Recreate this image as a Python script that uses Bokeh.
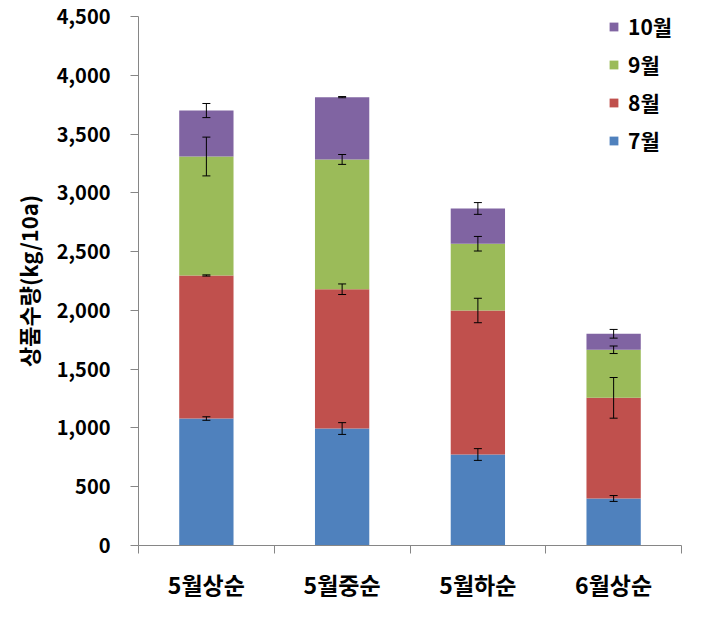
from bokeh.plotting import figure
from bokeh.models import (ColumnDataSource, Range1d, FixedTicker, Whisker, TeeHead,
                          Legend, LegendItem, NumeralTickFormatter)
from bokeh.embed import file_html
from bokeh.resources import INLINE

categories = ["5월상순", "5월중순", "5월하순", "6월상순"]
series_names = ["7월", "8월", "9월", "10월"]
jul = [1080, 995, 774, 400]
aug = [1217, 1185, 1225, 856]
sep = [1012, 1104, 568, 409]
oct_ = [391, 530, 300, 136]
jul_err = [15, 50, 50, 25]
aug_err = [5, 45, 104, 173]
sep_err = [165, 42, 62, 32]
oct_err = [60, 5, 50, 37]
y_ticks = [0, 500, 1000, 1500, 2000, 2500, 3000, 3500, 4000, 4500]

colors = ["#4F81BD", "#C0504D", "#9BBB59", "#8064A2"]
FONT = "Noto Sans CJK KR"

xs = [i + 0.5 for i in range(len(categories))]
values = [jul, aug, sep, oct_]
errors = [jul_err, aug_err, sep_err, oct_err]

p = figure(frame_width=543, frame_height=529, output_backend="svg", toolbar_location=None,
           x_range=Range1d(0, len(categories)), y_range=Range1d(0, 4500),
           min_border_left=138, min_border_right=20, min_border_top=16, min_border_bottom=76)
p.outline_line_color = None
p.xgrid.visible = False
p.ygrid.visible = False
p.background_fill_color = "white"
p.border_fill_color = "white"

renderers = []
bottoms = [0] * len(categories)
for vals, errs, col, name in zip(values, errors, colors, series_names):
    tops = [b + v for b, v in zip(bottoms, vals)]
    src = ColumnDataSource(dict(x=xs, bottom=bottoms, top=tops,
                                upper=[t + e for t, e in zip(tops, errs)],
                                lower=[t - e for t, e in zip(tops, errs)]))
    r = p.vbar(x="x", bottom="bottom", top="top", width=0.4, source=src,
               fill_color=col, line_color=None)
    renderers.append((name, r, src))
    bottoms = tops

for name, r, src in renderers:
    w = Whisker(source=src, base="x", upper="upper", lower="lower", line_color="black",
                line_width=1, level="overlay",
                upper_head=TeeHead(size=8, line_color="black", line_width=1),
                lower_head=TeeHead(size=8, line_color="black", line_width=1))
    p.add_layout(w)

# axes
p.yaxis.ticker = FixedTicker(ticks=y_ticks)
p.yaxis.formatter = NumeralTickFormatter(format="0,0")
p.yaxis.axis_line_color = "#868686"
p.yaxis.major_tick_line_color = "#868686"
p.yaxis.major_tick_out = 8
p.yaxis.major_tick_in = 0
p.yaxis.minor_tick_line_color = None
p.yaxis.major_label_text_font = FONT
p.yaxis.major_label_text_font_style = "bold"
p.yaxis.major_label_text_font_size = "20px"
p.yaxis.major_label_text_color = "black"
p.yaxis.major_label_standoff = 20
p.yaxis.axis_label = "상품수량(kg/10a)"
p.yaxis.axis_label_text_font = FONT
p.yaxis.axis_label_text_font_style = "bold"
p.yaxis.axis_label_text_font_size = "22px"
p.yaxis.axis_label_text_color = "black"
p.yaxis.axis_label_standoff = 10

p.xaxis.ticker = FixedTicker(ticks=xs, minor_ticks=list(range(len(categories) + 1)))
p.xaxis.major_label_overrides = {x: c for x, c in zip(xs, categories)}
p.xaxis.axis_line_color = "#868686"
p.xaxis.major_tick_line_color = None
p.xaxis.minor_tick_line_color = "#868686"
p.xaxis.minor_tick_out = 8
p.xaxis.minor_tick_in = 0
p.xaxis.major_label_text_font = FONT
p.xaxis.major_label_text_font_style = "bold"
p.xaxis.major_label_text_font_size = "23px"
p.xaxis.major_label_text_color = "black"
p.xaxis.major_label_standoff = 13

items = [LegendItem(label=name, renderers=[r]) for name, r, _ in reversed(renderers)]
legend = Legend(items=items, location=(470, 390), orientation="vertical",
                glyph_width=11, glyph_height=11, spacing=8, padding=0, margin=0,
                label_width=50, label_height=28,
                label_text_font=FONT, label_text_font_style="bold",
                label_text_font_size="21px", label_text_color="black",
                label_standoff=9, border_line_color=None, background_fill_alpha=0)
p.add_layout(legend)

open("out.html", "w").write(file_html(p, INLINE))
